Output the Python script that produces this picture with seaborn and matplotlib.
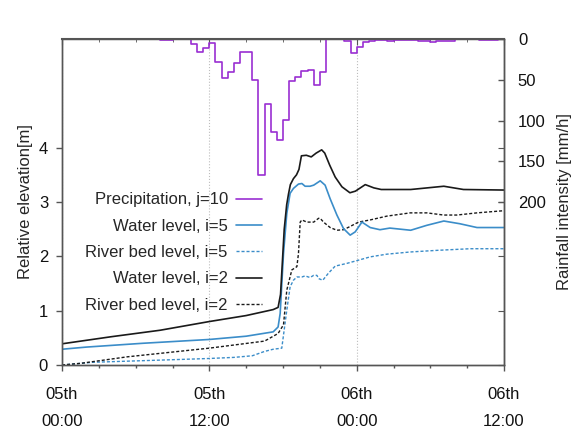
import numpy as np
import pandas as pd
import matplotlib
matplotlib.use("Agg")
import matplotlib.pyplot as plt
import seaborn as sns
from matplotlib.lines import Line2D
from matplotlib.ticker import FixedLocator, MultipleLocator

sns.set_style("ticks")
plt.rcParams["font.family"] = ["Liberation Sans", "DejaVu Sans"]
plt.rcParams["font.size"] = 12

# ---------------- data (hours from 05th 00:00) ----------------
# precipitation, half-hour bins (start time of each bin)
rain_start = [i * 0.5 for i in range(72)]
rain_rate = [0, 0, 0, 0, 0, 0, 0, 0, 0, 0, 0, 0, 0, 0, 0, 0,       # 0.0 - 7.5
             1.5, 1.5, 0, 0.5, 0, 6, 15.5, 11.5, 5.5, 28.5,          # 8.0 - 12.5
             48, 41, 30, 15.5, 16, 50, 167, 80, 114, 124,            # 13.0 - 17.5
             99, 52, 47, 39, 38, 57, 40, 0, 0, 0,                    # 18.0 - 22.5
             2, 17.5, 10, 4, 3, 1.5, 1.5, 2, 1, 1,                   # 23.0 - 27.5
             1, 1.5, 2, 2.5, 4, 3, 2, 2, 0.5, 0.5,                   # 28.0 - 32.5
             0, 0, 1, 1, 1, 0]                                       # 33.0 - 35.5

# water level, i=2
wl2_t = [0, 4, 8, 12, 15, 17.2, 17.6, 17.8, 17.95, 18.1, 18.3, 18.45, 18.6,
         18.85, 19.1, 19.3, 19.5, 19.9, 20.3, 20.7, 21.15, 21.4, 21.8, 22.25,
         22.8, 23.45, 23.9, 24.7, 25.4, 26.0, 28.4, 31.1, 32.7, 36]
wl2_v = [0.39, 0.52, 0.64, 0.80, 0.91, 1.02, 1.06, 1.3, 1.9, 2.5, 2.95, 3.15, 3.32,
         3.43, 3.5, 3.6, 3.85, 3.86, 3.83, 3.9, 3.96, 3.9, 3.68, 3.46,
         3.28, 3.17, 3.2, 3.32, 3.26, 3.23, 3.23, 3.29, 3.23, 3.22]

# water level, i=5
wl5_t = [0, 2, 6.6, 12, 15, 17.2, 17.6, 17.77, 18.04, 18.31, 18.58, 18.85, 19.26,
         19.54, 19.8, 20.2, 20.5, 20.9, 21.03, 21.43, 21.84, 22.39, 22.93, 23.47,
         23.88, 24.43, 25.1, 25.9, 26.7, 28.4, 29.7, 31.1, 32.4, 33.8, 36]
wl5_v = [0.29, 0.33, 0.40, 0.47, 0.53, 0.61, 0.70, 0.95, 2.05, 2.79, 3.16, 3.25, 3.33,
         3.34, 3.29, 3.29, 3.31, 3.37, 3.39, 3.31, 3.06, 2.76, 2.51, 2.39,
         2.45, 2.63, 2.53, 2.49, 2.52, 2.48, 2.57, 2.65, 2.60, 2.53, 2.53]

# river bed level, i=2
rb2_t = [0, 1.5, 5.3, 12, 16.5, 17.6, 18.04, 18.31, 18.72, 19.13, 19.26, 19.4,
         19.54, 19.94, 20.5, 20.9, 21.03, 21.3, 21.84, 22.39, 22.93, 23.47, 24.15,
         25.1, 26.46, 28.36, 29.72, 31.08, 32.17, 33.8, 36]
rb2_v = [0.0, 0.03, 0.15, 0.31, 0.44, 0.58, 0.74, 1.38, 1.75, 1.81, 2.05, 2.63,
         2.67, 2.63, 2.63, 2.70, 2.70, 2.63, 2.53, 2.48, 2.49, 2.55, 2.63,
         2.67, 2.74, 2.80, 2.80, 2.76, 2.76, 2.80, 2.84]

# river bed level, i=5
rb5_t = [0, 2.5, 8, 12, 14, 15.5, 16.5, 17.2, 17.9, 18.31, 18.58, 18.85, 19.13,
         19.54, 19.8, 20.2, 20.5, 20.76, 20.9, 21.24, 21.7, 22.25, 23.2, 24.0,
         25.1, 26.46, 28.36, 30.54, 33.25, 36]
rb5_v = [0.0, 0.05, 0.09, 0.12, 0.14, 0.17, 0.25, 0.29, 0.31, 1.01, 1.44, 1.56, 1.62,
         1.62, 1.64, 1.61, 1.65, 1.65, 1.59, 1.56, 1.69, 1.82, 1.87, 1.92,
         1.99, 2.04, 2.08, 2.11, 2.14, 2.14]

x_ticks = [0, 12, 24, 36]
x_ticklabels = ["05th\n00:00", "05th\n12:00", "06th\n00:00", "06th\n12:00"]
y_ticks = [0, 1, 2, 3, 4]
rain_ticks = [0, 50, 100, 150, 200]

labels = ["Precipitation, j=10", "Water level, i=5", "River bed level, i=5",
          "Water level, i=2", "River bed level, i=2"]

# ---------------- styles ----------------
C_PURPLE = "#9a2fd2"
C_BLUE = "#3b8dc9"
C_BLACK = "#1a1a1a"
DASH = (0, (2.2, 1.4))

fig = plt.figure(figsize=(5.79, 4.30), dpi=100)
ax = fig.add_axes([62 / 579, 65 / 430, 442 / 579, 326 / 430])
ax2 = ax.twinx()

df_wl2 = pd.DataFrame({"t": wl2_t, "v": wl2_v})
df_wl5 = pd.DataFrame({"t": wl5_t, "v": wl5_v})
df_rb2 = pd.DataFrame({"t": rb2_t, "v": rb2_v})
df_rb5 = pd.DataFrame({"t": rb5_t, "v": rb5_v})
rain_t = rain_start + [36.0]
rain_v = rain_rate + [rain_rate[-1]]
df_rain = pd.DataFrame({"t": rain_t, "r": rain_v})

sns.lineplot(data=df_rb5, x="t", y="v", ax=ax, color=C_BLUE, lw=1.0, linestyle=DASH, sort=False)
sns.lineplot(data=df_rb2, x="t", y="v", ax=ax, color=C_BLACK, lw=1.0, linestyle=DASH, sort=False)
sns.lineplot(data=df_wl5, x="t", y="v", ax=ax, color=C_BLUE, lw=1.2, sort=False)
sns.lineplot(data=df_wl2, x="t", y="v", ax=ax, color=C_BLACK, lw=1.2, sort=False)
sns.lineplot(data=df_rain, x="t", y="r", ax=ax2, color=C_PURPLE, lw=1.2,
             drawstyle="steps-post", sort=False, zorder=1.5)

ax.set_xlim(0, 36)
ax.set_ylim(0, 6)
ax2.set_ylim(400, 0)

ax.xaxis.set_major_locator(FixedLocator(x_ticks))
ax.xaxis.set_minor_locator(MultipleLocator(3))
ax.set_xticklabels(x_ticklabels)
for lbl in ax.get_xticklabels():
    lbl.set_linespacing(1.95)
ax.set_yticks(y_ticks)
ax2.set_yticks(rain_ticks)

SPINE = "#555555"
for a in (ax, ax2):
    for s in a.spines.values():
        s.set_color(SPINE)
        s.set_linewidth(1.0)
        s.set_zorder(3)
ax2.spines["top"].set_linewidth(1.5)

ax.tick_params(axis="x", which="major", direction="out", length=4, width=1,
               color=SPINE, pad=12, labelsize=12, labelcolor="#111111")
ax.tick_params(axis="x", which="minor", direction="out", length=2.5, width=1, color=SPINE)
ax.tick_params(axis="y", direction="out", length=4, width=1, color=SPINE, pad=6,
               labelsize=12, labelcolor="#111111")
ax2.tick_params(axis="y", direction="in", length=4, width=1, color=SPINE, pad=10,
                labelsize=12, labelcolor="#111111")
# mirrored ticks on top
ax2.xaxis.set_visible(True)
ax2.tick_params(axis="x", which="both", bottom=False, top=True, labelbottom=False,
                labeltop=False, direction="in", color=SPINE)
ax2.tick_params(axis="x", which="major", length=4)
ax2.tick_params(axis="x", which="minor", length=2.5)
# mirrored left ticks on the right spine
sec = ax.secondary_yaxis("right")
sec.set_yticks(y_ticks)
sec.tick_params(direction="in", length=4, color=SPINE, labelright=False)
sec.spines["right"].set_color(SPINE)

ax.grid(axis="x", which="major", linestyle=":", color="#bdbdbd", lw=0.8)
ax.set_axisbelow(True)

ax.set_xlabel("")
ax.set_ylabel("Relative elevation[m]", fontsize=12, labelpad=4)
ax2.set_xlabel("")
ax2.set_ylabel("Rainfall intensity [mm/h]", fontsize=12, labelpad=8)

handles = [
    Line2D([], [], color=C_PURPLE, lw=1.2),
    Line2D([], [], color=C_BLUE, lw=1.2),
    Line2D([], [], color=C_BLUE, lw=1.0, linestyle=DASH),
    Line2D([], [], color=C_BLACK, lw=1.2),
    Line2D([], [], color=C_BLACK, lw=1.0, linestyle=DASH),
]
fig.legend(handles, labels, loc="center right",
           bbox_to_anchor=(262 / 579, 1 - 252.5 / 430), bbox_transform=fig.transFigure,
           frameon=False, markerfirst=False, handlelength=1.55, handletextpad=0.5,
           labelspacing=0.68, borderpad=0, borderaxespad=0, fontsize=12)

fig.savefig("out.png", dpi=100)
